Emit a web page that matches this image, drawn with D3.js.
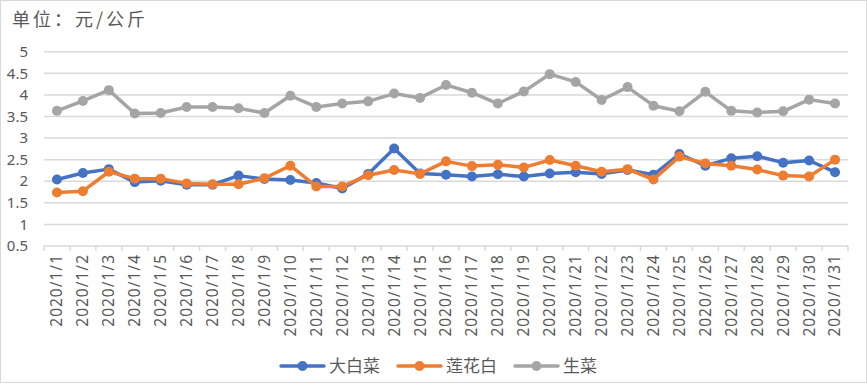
<!DOCTYPE html>
<html>
<head>
<meta charset="utf-8">
<script src="https://cdn.jsdelivr.net/npm/d3@7"></script>
<style>
  body { margin: 0; background: #fff; }
  svg { font-family: "Noto Sans CJK SC", "Noto Sans", sans-serif; }
  .num { font-family: "Noto Sans", sans-serif; }
</style>
</head>
<body>
<div id="chart"></div>
<script>
// 日期
var dates = ["2020/1/1","2020/1/2","2020/1/3","2020/1/4","2020/1/5","2020/1/6","2020/1/7","2020/1/8","2020/1/9","2020/1/10",
  "2020/1/11","2020/1/12","2020/1/13","2020/1/14","2020/1/15","2020/1/16","2020/1/17","2020/1/18","2020/1/19","2020/1/20",
  "2020/1/21","2020/1/22","2020/1/23","2020/1/24","2020/1/25","2020/1/26","2020/1/27","2020/1/28","2020/1/29","2020/1/30","2020/1/31"];

// 各品種價格（元/公斤）
var dabaicai = [2.04,2.19,2.28,1.98,2.01,1.92,1.92,2.13,2.05,2.03,1.96,1.83,2.17,2.76,2.18,2.15,2.11,2.16,2.11,2.18,
  2.21,2.17,2.26,2.15,2.63,2.36,2.53,2.58,2.43,2.48,2.21];
var lianhuabai = [1.74,1.77,2.22,2.06,2.06,1.95,1.93,1.93,2.07,2.36,1.88,1.88,2.14,2.26,2.17,2.46,2.35,2.38,2.32,2.49,
  2.36,2.22,2.28,2.04,2.57,2.41,2.36,2.27,2.13,2.11,2.50];
var shengcai = [3.63,3.86,4.11,3.57,3.58,3.72,3.72,3.69,3.58,3.98,3.72,3.80,3.85,4.03,3.93,4.23,4.05,3.80,4.08,4.48,
  4.30,3.88,4.18,3.75,3.62,4.07,3.63,3.59,3.62,3.89,3.80];

var yTicks = [0.5,1,1.5,2,2.5,3,3.5,4,4.5,5];

var series = [
  { name: "大白菜", values: dabaicai, color: "#4472C4" },
  { name: "莲花白", values: lianhuabai, color: "#ED7D31" },
  { name: "生菜", values: shengcai, color: "#A5A5A5" }
];

var W = 867, H = 385;
var svg = d3.select("#chart").append("svg")
  .attr("width", W).attr("height", H);

svg.append("rect")
  .attr("x", 0.5).attr("y", 0.5)
  .attr("width", W - 1).attr("height", H - 3)
  .attr("fill", "#fff").attr("stroke", "#d9d9d9");

svg.append("text")
  .attr("x", 12).attr("y", 26)
  .attr("font-size", 18).attr("letter-spacing", 3)
  .attr("fill", "#595959")
  .text("单位：元/公斤");

var x = d3.scaleBand().domain(dates).range([44, 848]);
var y = d3.scaleLinear().domain([0.5, 5]).range([246, 51.7]);

// 網格線
svg.append("g").selectAll("line")
  .data(yTicks)
  .enter().append("line")
  .attr("x1", 44).attr("x2", 848)
  .attr("y1", function(d) { return y(d); })
  .attr("y2", function(d) { return y(d); })
  .attr("stroke", "#d9d9d9").attr("stroke-width", 1.5);

// y軸標籤
svg.append("g").selectAll("text")
  .data(yTicks)
  .enter().append("text")
  .attr("class", "num")
  .attr("x", 28)
  .attr("y", function(d) { return y(d); })
  .attr("dy", "0.35em")
  .attr("text-anchor", "end")
  .attr("font-size", 15)
  .attr("fill", "#595959")
  .text(function(d) { return d; });

// x軸刻度
var tickPos = dates.map(function(d) { return x(d); }).concat([x.range()[1]]);
svg.append("g").selectAll("line")
  .data(tickPos)
  .enter().append("line")
  .attr("x1", function(d) { return d; }).attr("x2", function(d) { return d; })
  .attr("y1", y(0.5)).attr("y2", y(0.5) + 5)
  .attr("stroke", "#d9d9d9").attr("stroke-width", 1.5);

svg.append("g").selectAll("text")
  .data(dates)
  .enter().append("text")
  .attr("class", "num")
  .attr("transform", function(d) {
    return "translate(" + (x(d) + x.bandwidth() / 2) + "," + 254 + ") rotate(-90)";
  })
  .attr("text-anchor", "end")
  .attr("dy", "0.35em")
  .attr("font-size", 15.5)
  .attr("letter-spacing", 1)
  .attr("fill", "#595959")
  .text(function(d) { return d; });

// 折線
var line = d3.line()
  .x(function(d, i) { return x(dates[i]) + x.bandwidth() / 2; })
  .y(function(d) { return y(d); });

series.forEach(function(s) {
  var g = svg.append("g");
  g.append("path")
    .datum(s.values)
    .attr("d", line)
    .attr("fill", "none")
    .attr("stroke", s.color)
    .attr("stroke-width", 3.5)
    .attr("stroke-linejoin", "round")
    .attr("stroke-linecap", "round");
  g.selectAll("circle")
    .data(s.values)
    .enter().append("circle")
    .attr("cx", function(d, i) { return x(dates[i]) + x.bandwidth() / 2; })
    .attr("cy", function(d) { return y(d); })
    .attr("r", 5)
    .attr("fill", s.color);
});

// 圖例
var legendX = [281, 398, 515];
var legend = svg.append("g");
series.forEach(function(s, i) {
  var lx = legendX[i], ly = 366;
  legend.append("line")
    .attr("x1", lx).attr("x2", lx + 43)
    .attr("y1", ly).attr("y2", ly)
    .attr("stroke", s.color).attr("stroke-width", 3.5)
    .attr("stroke-linecap", "round");
  legend.append("circle")
    .attr("cx", lx + 21.5).attr("cy", ly).attr("r", 5)
    .attr("fill", s.color);
  legend.append("text")
    .attr("x", lx + 48).attr("y", ly)
    .attr("dy", "0.35em")
    .attr("font-size", 17)
    .attr("fill", "#595959")
    .text(s.name);
});
</script>
</body>
</html>
